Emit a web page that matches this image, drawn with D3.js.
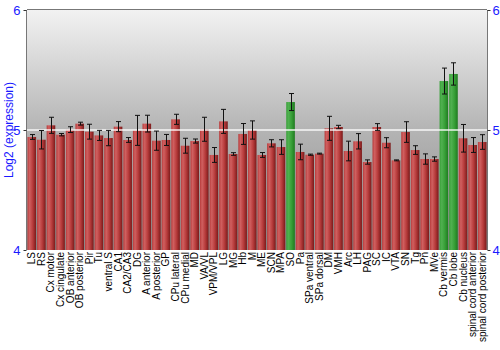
<!DOCTYPE html>
<html><head><meta charset="utf-8">
<script src="https://cdn.jsdelivr.net/npm/d3@7"></script>
<style>body{margin:0;background:#fff}svg{display:block}</style>
</head><body>
<svg id="c" width="500" height="350"></svg>
<script>
const categories = ["LS","RS","Cx motor","Cx cingulate","OB anterior","OB posterior","Pir","Tu","ventral S","CA1","CA2/CA3","DG","A anterior","A posterior","GP","CPu lateral","CPu medial","MD","VA/VL","VPM/VPL","LG","MG","Hb","M","ME","SCN","MPA","SO","Pa","SPa ventral","SPa dorsal","DM","VMH","Arc","LH","PAG","SC","IC","VTA","SN","Tg","Pn","MVe","Cb vermis","Cb lobe","Cb nucleus","spinal cord anterior","spinal cord posterior"];
const values = [4.942,4.919,5.039,4.961,5.003,5.053,4.986,4.955,4.933,5.028,4.917,4.997,5.053,4.911,4.917,5.089,4.869,4.908,5.006,4.792,5.072,4.800,4.967,5.000,4.792,4.889,4.858,5.233,4.817,4.794,4.803,5.014,5.025,4.825,4.906,4.733,5.025,4.894,4.747,4.983,4.833,4.758,4.758,5.408,5.467,4.931,4.875,4.900];
const errors = [0.020,0.077,0.067,0.010,0.024,0.012,0.062,0.042,0.064,0.042,0.020,0.125,0.070,0.080,0.046,0.042,0.062,0.017,0.100,0.062,0.100,0.011,0.087,0.076,0.020,0.030,0.061,0.071,0.065,0.005,0.004,0.100,0.014,0.082,0.064,0.018,0.028,0.042,0.004,0.086,0.036,0.043,0.018,0.108,0.093,0.115,0.062,0.061];
const highlighted = ["SO","Cb vermis","Cb lobe"];
const yTicks = [4,5,6];
const yTitle = "Log2 (expression)";

const svg = d3.select("#c");
const L=27, R=487, T=10, B=250;
const x = d3.scaleBand().domain(categories).range([L,R]).paddingInner(0.1).paddingOuter(0.05);
const y = d3.scaleLinear().domain([4,6]).range([B,T]);

const defs = svg.append("defs");
const bg = defs.append("linearGradient").attr("id","bg").attr("x1",0).attr("y1",0).attr("x2",0).attr("y2",1);
bg.append("stop").attr("offset","0%").attr("stop-color","#f2f2f2");
bg.append("stop").attr("offset","50%").attr("stop-color","#b4b4b4");
bg.append("stop").attr("offset","100%").attr("stop-color","#8a8a8a");
function barGrad(id, c1, c2, c3){
  const g = defs.append("linearGradient").attr("id",id).attr("x1",0).attr("y1",0).attr("x2",1).attr("y2",0);
  g.append("stop").attr("offset","0%").attr("stop-color",c2);
  g.append("stop").attr("offset","25%").attr("stop-color",c1);
  g.append("stop").attr("offset","60%").attr("stop-color",c2);
  g.append("stop").attr("offset","100%").attr("stop-color",c3);
}
barGrad("red","#d06060","#b83c3c","#7a1a1a");
barGrad("green","#50b050","#38a038","#1f7a1f");

svg.append("rect").attr("x",L).attr("y",T).attr("width",R-L).attr("height",B-T).attr("fill","url(#bg)");

svg.append("g").selectAll("rect").data(categories).join("rect")
  .attr("x",d=>x(d)).attr("width",x.bandwidth())
  .attr("y",(d,i)=>y(values[i])).attr("height",(d,i)=>B-y(values[i]))
  .attr("fill",d=>highlighted.includes(d)?"url(#green)":"url(#red)");

// reference line at 5
svg.append("line").attr("x1",L).attr("x2",R).attr("y1",y(5)).attr("y2",y(5))
  .attr("stroke","#ffffff").attr("stroke-width",1.5).attr("opacity",0.9);

// error bars
const eb = svg.append("g").attr("stroke","#111").attr("stroke-width",1);
categories.forEach((d,i)=>{
  const cx = Math.round(x(d)+x.bandwidth()/2)+0.5;
  const y1 = y(values[i]+errors[i]), y2 = y(values[i]-errors[i]);
  eb.append("line").attr("x1",cx).attr("x2",cx).attr("y1",y1).attr("y2",y2);
  eb.append("line").attr("x1",cx-2.5).attr("x2",cx+2.5).attr("y1",y1).attr("y2",y1);
  eb.append("line").attr("x1",cx-2.5).attr("x2",cx+2.5).attr("y1",y2).attr("y2",y2);
});

// frame
svg.append("line").attr("x1",L-0.5).attr("x2",L-0.5).attr("y1",T).attr("y2",B).attr("stroke","#777");
svg.append("line").attr("x1",R+0.5).attr("x2",R+0.5).attr("y1",T).attr("y2",B).attr("stroke","#777");
svg.append("line").attr("x1",L).attr("x2",R).attr("y1",T-0.5).attr("y2",T-0.5).attr("stroke","#777");

// axes
const la = svg.append("g").attr("transform",`translate(${L-0.5},0)`)
  .call(d3.axisLeft(y).tickValues(yTicks).tickFormat(d3.format("d")).tickSize(3).tickPadding(3));
const ra = svg.append("g").attr("transform",`translate(${R+0.5},0)`)
  .call(d3.axisRight(y).tickValues(yTicks).tickFormat(d3.format("d")).tickSize(3).tickPadding(2));
[la,ra].forEach(a=>{
  a.select(".domain").remove();
  a.selectAll(".tick line").attr("stroke","#333");
  a.selectAll("text").attr("fill","#1a1aff").attr("font-family","Liberation Sans, Arial, sans-serif").attr("font-size",13);
});

svg.append("text").attr("transform",`translate(13,${(T+B)/2}) rotate(-90)`)
  .attr("text-anchor","middle").attr("fill","#1a1aff")
  .attr("font-family","Liberation Sans, Arial, sans-serif").attr("font-size",12).text(yTitle);

// x labels
svg.append("g").selectAll("text").data(categories).join("text")
  .attr("transform",d=>`translate(${x(d)+x.bandwidth()/2+3.5},${B+2}) rotate(-90)`)
  .attr("text-anchor","end")
  .attr("font-family","Liberation Sans, Arial, sans-serif").attr("font-size",10).attr("fill","#000")
  .text(d=>d);
</script>
</body></html>
